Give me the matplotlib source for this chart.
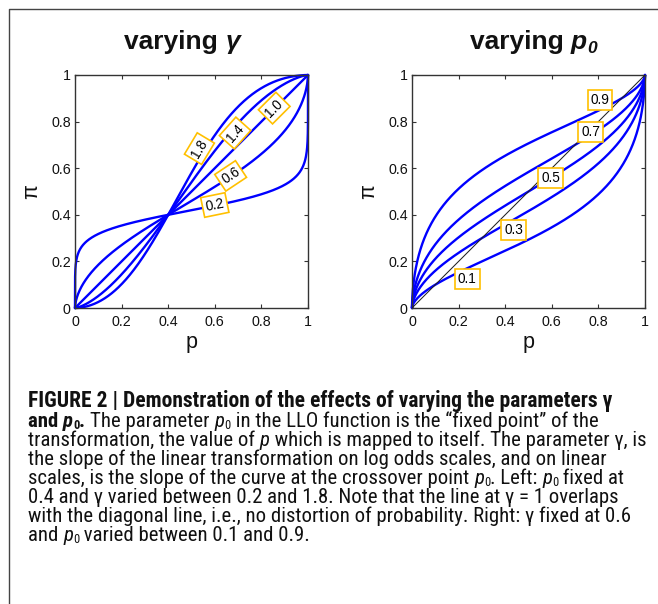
import numpy as np
import matplotlib
matplotlib.use("Agg")
import matplotlib.pyplot as plt
from matplotlib import font_manager as fm
from matplotlib.lines import Line2D

W, H, DPI = 658, 604, 100

# ---------------- data ----------------
gammas_left = [0.2, 0.6, 1.0, 1.4, 1.8]
p0_left = 0.4
gamma_right = 0.6
p0s_right = [0.1, 0.3, 0.5, 0.7, 0.9]
left_labels = ["0.2", "0.6", "1.0", "1.4", "1.8"]
right_labels = ["0.1", "0.3", "0.5", "0.7", "0.9"]
ticks = [0, 0.2, 0.4, 0.6, 0.8, 1]
tick_labels = ["0", "0.2", "0.4", "0.6", "0.8", "1"]

# label box positions (data coords)
left_label_xy = [(0.600, 0.442), (0.668, 0.567), (0.855, 0.858),
                 (0.687, 0.751), (0.534, 0.684)]
right_label_xy = [(0.237, 0.123), (0.436, 0.335), (0.595, 0.559),
                  (0.767, 0.757), (0.807, 0.893)]


def llo(p, gamma, p0):
    """linear-in-log-odds transformation"""
    delta = (p0 / (1 - p0)) ** (1 - gamma)
    num = delta * p ** gamma
    return num / (num + (1 - p) ** gamma)


p = np.unique(np.concatenate([[0.0], np.geomspace(1e-7, 0.01, 80),
                              np.linspace(0.01, 0.99, 600),
                              1 - np.geomspace(1e-7, 0.01, 80), [1.0]]))

# ---------------- fonts ----------------
SANS = ["Liberation Sans", "DejaVu Sans"]
names = {f.name for f in fm.fontManager.ttflist}
NARROW, NARROW_STRETCH = ["Liberation Sans", "DejaVu Sans"], "normal"
for cand in ["Liberation Sans Narrow", "Arial Narrow", "Roboto Condensed",
             "Open Sans Condensed"]:
    if cand in names:
        NARROW = [cand, "DejaVu Sans"]
        break
else:
    if any(f.name == "DejaVu Sans" and "Condensed" in f.fname for f in fm.fontManager.ttflist):
        NARROW, NARROW_STRETCH = ["DejaVu Sans"], "condensed"

BLUE = "#0000FF"
GOLD = "#FFC000"
SPINE = "#333333"

fig = plt.figure(figsize=(W / DPI, H / DPI), dpi=DPI)
renderer = fig.canvas.get_renderer()


def px_axes(x0, y0, x1, y1):
    return fig.add_axes([x0 / W, 1 - y1 / H, (x1 - x0) / W, (y1 - y0) / H])


axL = px_axes(75, 75, 308, 308)
axR = px_axes(412, 75, 645, 308)

for ax in (axL, axR):
    ax.set_xlim(0, 1)
    ax.set_ylim(0, 1)
    ax.set_xticks(ticks)
    ax.set_yticks(ticks)
    ax.set_xticklabels(tick_labels, fontfamily=SANS)
    ax.set_yticklabels(tick_labels, fontfamily=SANS)
    ax.tick_params(direction="in", top=True, right=True, length=3, width=0.8,
                   labelsize=10.3, colors=SPINE, labelcolor="#111111")
    ax.tick_params(axis="x", pad=5)
    ax.tick_params(axis="y", pad=3)
    for s in ax.spines.values():
        s.set_color(SPINE)
        s.set_linewidth(1.0)


def slope_angle(x, g, p0):
    d = 0.005
    return np.degrees(np.arctan2(llo(x + d, g, p0) - llo(x - d, g, p0), 2 * d))


# left panel: varying gamma
for g, lab, (lx, ly) in zip(gammas_left, left_labels, left_label_xy):
    axL.plot(p, llo(p, g, p0_left), color=BLUE, lw=1.7, solid_capstyle="round",
             clip_on=False, zorder=2)
    axL.text(lx, ly, lab, fontsize=9.8, fontfamily=SANS,
             rotation=slope_angle(lx, g, p0_left),
             rotation_mode="anchor", ha="center", va="center", zorder=5,
             bbox=dict(boxstyle="square,pad=0.22", fc="white", ec=GOLD, lw=1.2))

# right panel: varying p0
axR.plot([0, 1], [0, 1], color="#222222", lw=0.75, zorder=3)
for p0, lab, (lx, ly) in zip(p0s_right, right_labels, right_label_xy):
    axR.plot(p, llo(p, gamma_right, p0), color=BLUE, lw=1.7, solid_capstyle="round",
             clip_on=False, zorder=2)
    axR.text(lx, ly, lab, fontsize=9.8, fontfamily=SANS, ha="center", va="center",
             zorder=5,
             bbox=dict(boxstyle="square,pad=0.22", fc="white", ec=GOLD, lw=1.2))


# ---------------- text helpers ----------------
def fp(family, size, weight="normal", style="normal", stretch="normal"):
    return fm.FontProperties(family=family, size=size, weight=weight, style=style,
                             stretch=stretch)


def width_px(s, prop):
    t = fig.text(0, 0, "|" + s + "|", fontproperties=prop)
    t2 = fig.text(0, 0, "||", fontproperties=prop)
    w = t.get_window_extent(renderer).width - t2.get_window_extent(renderer).width
    t.remove()
    t2.remove()
    return w


def draw_runs(x, y, runs):
    for s, prop, dy in runs:
        fig.text(x / W, 1 - (y + dy) / H, s, fontproperties=prop,
                 ha="left", va="baseline", color="#111111")
        x += width_px(s, prop)


def runs_width(runs):
    return sum(width_px(s, prop) for s, prop, dy in runs)


# titles
TS = 19
tb = fp(SANS, TS, "bold")
tbi = fp(SANS, TS, "bold", "italic")
tsub = fp(SANS, TS * 0.66, "bold", "italic")
title_L = [("varying ", tb, 0), ("\u03b3", tbi, 0)]
title_R = [("varying ", tb, 0), ("p", tbi, 0), ("0", tsub, 4)]
draw_runs(182 - runs_width(title_L) / 2, 49, title_L)
draw_runs(533 - runs_width(title_R) / 2, 49, title_R)

# axis labels
for cx in (191.5, 528.5):
    fig.text(cx / W, 1 - 348 / H, "p", fontsize=15.5, fontfamily=SANS,
             ha="center", va="baseline", color="#111111")
for cx in (32, 369):
    fig.text(cx / W, 1 - 191.5 / H, "\u03c0", fontsize=15.5, fontfamily=SANS,
             rotation=90, ha="center", va="center", color="#111111")

# caption: size fitted to the widths of text lines in the reference
base = 10.0
r10 = fp(NARROW, base, stretch=NARROW_STRETCH)
l4 = "the slope of the linear transformation on log odds scales, and on linear"
l7 = "with the diagonal line, i.e., no distortion of probability. Right: \u03b3 fixed at 0.6"
cs = 0.5 * (base * 572.0 / width_px(l4, r10) + base * 603.0 / width_px(l7, r10))
b10 = fp(NARROW, base, "bold", stretch=NARROW_STRETCH)
line1_text = "FIGURE 2 | Demonstration of the effects of varying the parameters \u03b3"
csb = min(cs * 1.035, base * 600.0 / width_px(line1_text, b10))

B1 = fp(NARROW, csb, "bold", stretch=NARROW_STRETCH)
B = fp(NARROW, cs, "bold", stretch=NARROW_STRETCH)
BI = fp(NARROW, cs, "bold", "italic", stretch=NARROW_STRETCH)
BS = fp(NARROW, cs * 0.6, "bold", stretch=NARROW_STRETCH)
R = fp(NARROW, cs, stretch=NARROW_STRETCH)
I = fp(NARROW, cs, style="italic", stretch=NARROW_STRETCH)
S = fp(NARROW, cs * 0.6, stretch=NARROW_STRETCH)
sd = 2

caption = [
    [(line1_text, B1, 0)],
    [("and ", B, 0), ("p", BI, 0), ("0", BS, sd), (". ", B, 0),
     ("The parameter ", R, 0), ("p", I, 0), ("0", S, sd),
     (" in the LLO function is the \u201cfixed point\u201d of the", R, 0)],
    [("transformation, the value of ", R, 0), ("p", I, 0),
     (" which is mapped to itself. The parameter \u03b3, is", R, 0)],
    [(l4, R, 0)],
    [("scales, is the slope of the curve at the crossover point ", R, 0), ("p", I, 0),
     ("0", S, sd), (". Left: ", R, 0), ("p", I, 0), ("0", S, sd), (" fixed at", R, 0)],
    [("0.4 and \u03b3 varied between 0.2 and 1.8. Note that the line at \u03b3 = 1 overlaps", R, 0)],
    [(l7, R, 0)],
    [("and ", R, 0), ("p", I, 0), ("0", S, sd), (" varied between 0.1 and 0.9.", R, 0)],
]
y0 = 408.5
for i, runs in enumerate(caption):
    draw_runs(28, y0 + i * 18.9 - (1.2 if i == 0 else 0), runs)

# frame
fig.add_artist(Line2D([8.5 / W, 8.5 / W, 1.0], [0.0, 1 - 9 / H, 1 - 9 / H],
                      transform=fig.transFigure, color="#444444", lw=1.0))

fig.savefig("out.png", dpi=DPI)
